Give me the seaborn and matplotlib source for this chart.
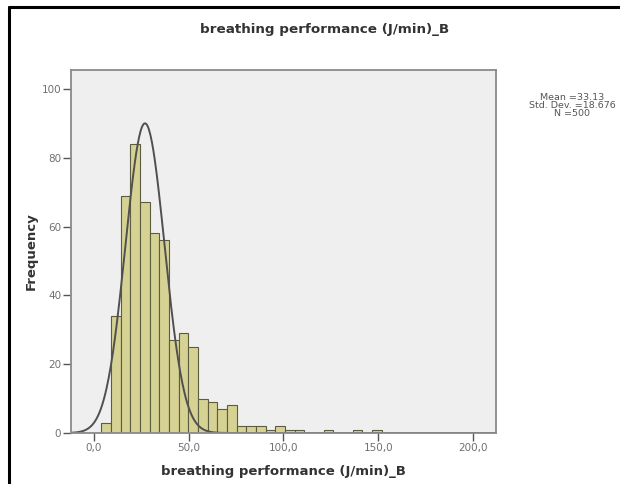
import numpy as np
import pandas as pd
import matplotlib
matplotlib.use("Agg")
import matplotlib.pyplot as plt
import seaborn as sns
from matplotlib.lines import Line2D

# ---- data ----
bin_edges = [3.9, 9.0, 14.1, 19.2, 24.3, 29.4, 34.5, 39.6, 44.7, 49.8, 54.9,
             60.0, 65.1, 70.2, 75.3, 80.4, 85.5, 90.6, 95.7, 100.8, 105.9,
             111.0, 116.1, 121.2, 126.3, 131.4, 136.5, 141.6, 146.7, 151.8]
counts = [3, 34, 69, 84, 67, 58, 56, 27, 29, 25, 10, 9, 7, 8,
          2, 2, 2, 1, 2, 1, 1, 0, 0, 1, 0, 0, 1, 0, 1]
curve_mean = 27.0
curve_sd = 10.3
curve_peak = 90.0
y_ticks = [0, 20, 40, 60, 80, 100]
x_ticks = [0, 50, 100, 150, 200]
x_tick_labels = ["0,0", "50,0", "100,0", "150,0", "200,0"]
stats_lines = ["Mean =33.13", "Std. Dev. =18.676", "N =500"]
title = "breathing performance (J/min)_B"
xlabel = "breathing performance (J/min)_B"
ylabel = "Frequency"

centers = [(bin_edges[i] + bin_edges[i + 1]) / 2 for i in range(len(counts))]
df = pd.DataFrame({"value": centers, "count": counts})

sns.set_theme(style="white")
plt.rcParams['font.family'] = ['DejaVu Sans']

W, H = 620, 484
fig = plt.figure(figsize=(6.2, 4.84), dpi=100)
ax = fig.add_axes([71 / W, 1 - 433 / H, (496 - 71) / W, (433 - 70) / H])
ax.set_facecolor("#efefef")

sns.histplot(data=df, x="value", weights="count", bins=bin_edges, ax=ax,
             color="#d6d293", edgecolor="#5c5c40", linewidth=0.8, alpha=1.0)

xs = np.linspace(-12, 212, 600)
ys = curve_peak * np.exp(-0.5 * ((xs - curve_mean) / curve_sd) ** 2)
sns.lineplot(x=xs, y=ys, ax=ax, color="#505050", linewidth=1.4)

ax.set_xlim(-12, 212)
ax.set_ylim(0, 105.5)
ax.set_xticks(x_ticks)
ax.set_xticklabels(x_tick_labels)
ax.set_yticks(y_ticks)
ax.tick_params(axis="both", direction="out", length=6, width=1, color="#555555",
               labelsize=7.5, labelcolor="#707070", bottom=True, left=True, pad=1)
for s in ax.spines.values():
    s.set_color("#8a8a8a")
    s.set_linewidth(1.3)

ax.set_xlabel(xlabel, fontsize=9.5, fontweight="bold", color="#333333")
ax.xaxis.set_label_coords((283 - 71) / 425, (433 - 465) / 363)
ax.set_ylabel(ylabel, fontsize=9.5, fontweight="bold", color="#333333")
ax.yaxis.set_label_coords((38 - 71) / 425, (433 - 251) / 363)

fig.text(325 / W, 1 - 30 / H, title, ha="center", va="center", fontsize=9.7,
         fontweight="bold", color="#333333")
for i, line in enumerate(stats_lines):
    fig.text(572 / W, 1 - (97 + 8 * i) / H, line, ha="center", va="center",
             fontsize=6.8, color="#555555")

# outer black frame (top and left visible)
fig.add_artist(Line2D([8.5 / W, 8.5 / W], [0, 1 - 7 / H], transform=fig.transFigure,
                      color="black", linewidth=2.2))
fig.add_artist(Line2D([8.5 / W, 1], [1 - 7 / H, 1 - 7 / H], transform=fig.transFigure,
                      color="black", linewidth=2.2))

fig.savefig("out.png", dpi=100, facecolor="white")
